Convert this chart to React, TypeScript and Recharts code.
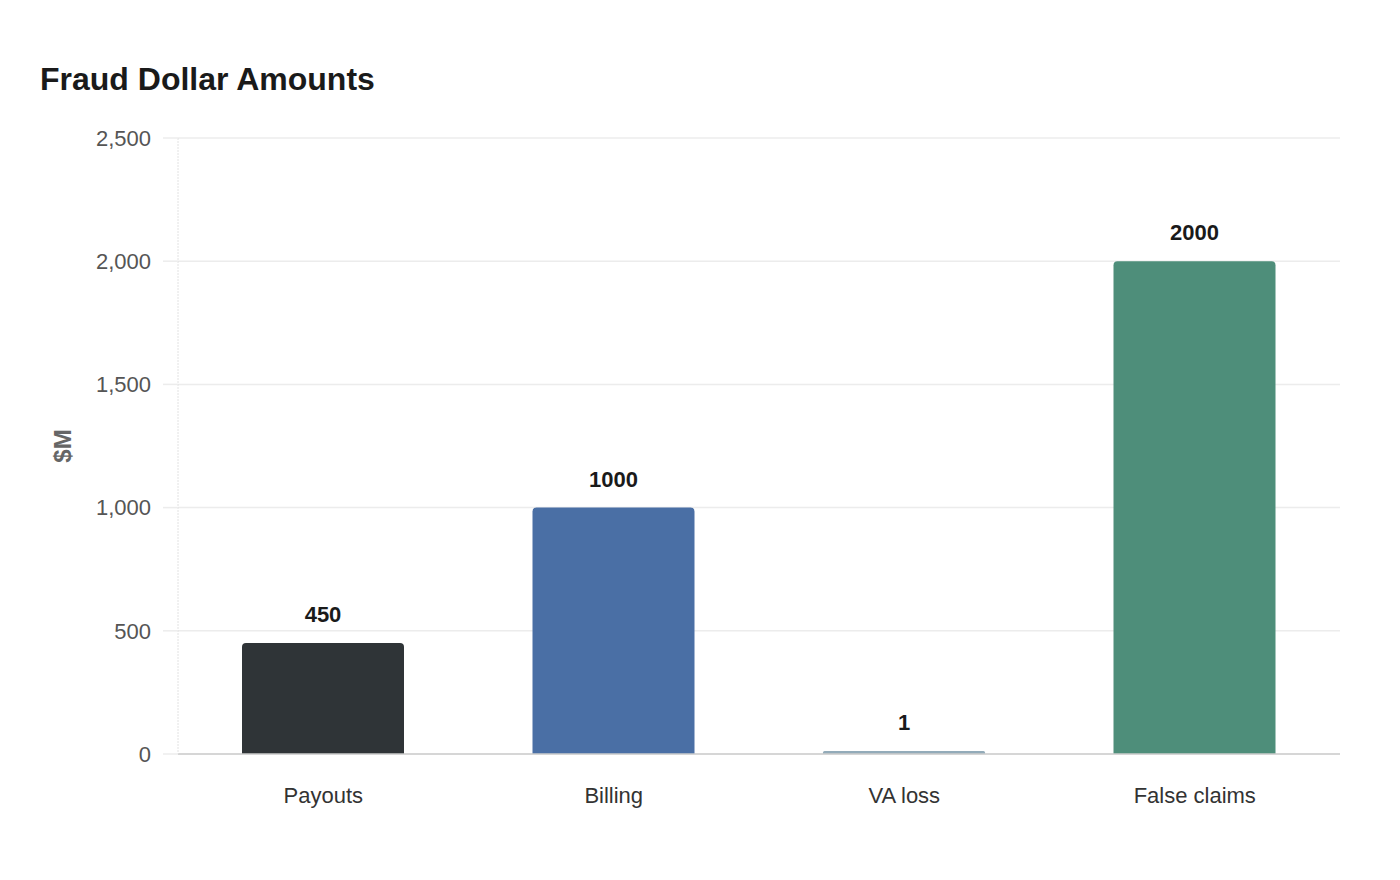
import React from 'react';
import { BarChart, Bar, XAxis, YAxis, CartesianGrid, LabelList, Cell } from 'recharts';

const categories = ['Payouts', 'Billing', 'VA loss', 'False claims'];
const amounts = [450, 1000, 1, 2000];
const colors = ['#2f3437', '#4a6fa5', '#93abb9', '#4e8e7a'];
const yTicks = [0, 500, 1000, 1500, 2000, 2500];

const data = categories.map((c, i) => ({ name: c, value: amounts[i] }));

const font = '"Liberation Sans", Arial, Helvetica, sans-serif';

const YLabel = (props: any) => {
  const vb = props.viewBox || {};
  const cy = vb.y + vb.height / 2;
  const cx = 62;
  return (
    <text
      x={cx}
      y={cy}
      transform={`rotate(-90, ${cx}, ${cy})`}
      textAnchor="middle"
      dominantBaseline="central"
      fontFamily={font}
      fontSize={24}
      fontWeight="bold"
      fill="#666"
    >
      $M
    </text>
  );
};

export default function App() {
  return (
    <div style={{ position: 'absolute', left: 0, top: 0, width: 1400, height: 880, background: '#fff', fontFamily: font }}>
      <div style={{ position: 'absolute', left: 40, top: 61, fontSize: 32, fontWeight: 'bold', color: '#1a1a1a', lineHeight: '36px', whiteSpace: 'nowrap' }}>
        Fraud Dollar Amounts
      </div>
      <BarChart
        width={1400}
        height={880}
        data={data}
        margin={{ top: 138, right: 60, bottom: 96, left: 0 }}
      >
        <CartesianGrid horizontal vertical={false} stroke="#ececec" strokeWidth={1.5} />
        <XAxis
          dataKey="name"
          height={30}
          tickLine={false}
          axisLine={{ stroke: '#cccccc', strokeWidth: 1.5 }}
          tickSize={0}
          tickMargin={33}
          tick={{ fill: '#333', fontSize: 22, fontFamily: font }}
        />
        <YAxis
          width={178}
          domain={[0, 2500]}
          ticks={yTicks}
          tickFormatter={(v: number) => v.toLocaleString('en-US')}
          axisLine={{ stroke: '#e2e2e2', strokeDasharray: '2 1' }}
          tickLine={{ stroke: '#ececec', strokeWidth: 1.5 }}
          tickSize={15}
          tickMargin={12}
          tick={{ fill: '#555', fontSize: 22, fontFamily: font }}
          label={<YLabel />}
        />
        <Bar dataKey="value" barSize={162} radius={[4, 4, 0, 0]} minPointSize={3} isAnimationActive={false}>
          {data.map((d, i) => (
            <Cell key={d.name} fill={colors[i]} />
          ))}
          <LabelList
            dataKey="value"
            position="top"
            offset={21}
            style={{ fill: '#1a1a1a', fontSize: 22, fontWeight: 'bold', fontFamily: font }}
          />
        </Bar>
      </BarChart>
    </div>
  );
}
